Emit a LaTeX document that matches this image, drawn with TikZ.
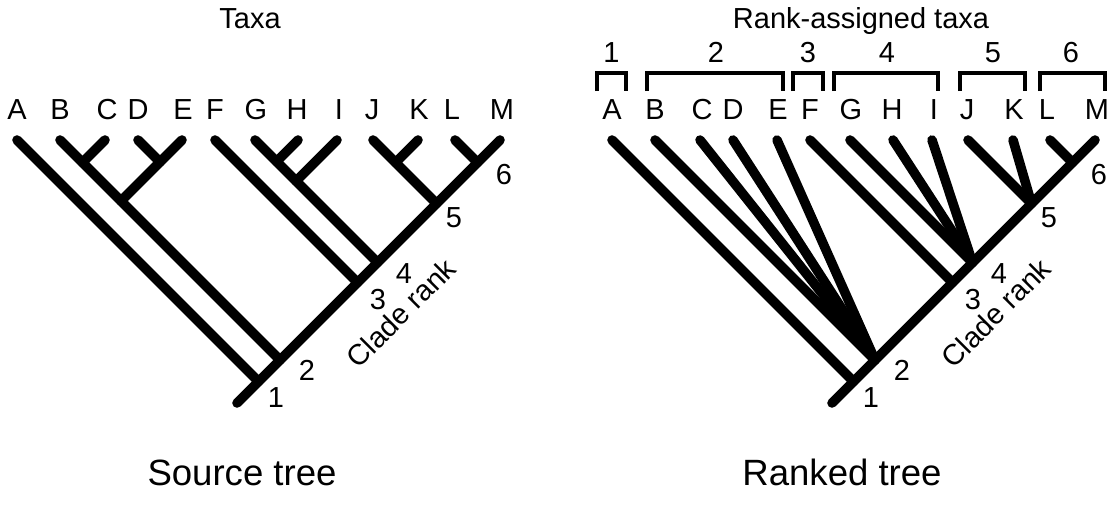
\documentclass[tikz,border=0pt]{standalone}
\usepackage{fontspec}
\setmainfont{Liberation Sans}
\usepackage{tikz}
\usetikzlibrary{positioning}

\tikzset{
  branch/.style={line width=6.8pt, line cap=round},
  bracket/.style={line width=3.2pt},
  taxon/.style={anchor=base, inner sep=0pt, font=\fontsize{20.6}{24}\selectfont},
  rank/.style={inner sep=0pt, font=\fontsize{20.6}{24}\selectfont},
  caption/.style={anchor=base, inner sep=0pt, font=\fontsize{26}{30}\selectfont}
}

\begin{document}
\begin{tikzpicture}[x=0.025cm, y=-0.025cm]
    \useasboundingbox (0,0) rectangle (1115,509);

    % source tree: leaves, rank nodes, inner joins
    \coordinate (lA) at (17,140);  \coordinate (lB) at (60,140);
    \coordinate (lC) at (105,140); \coordinate (lD) at (138,140);
    \coordinate (lE) at (182,140); \coordinate (lF) at (215,140);
    \coordinate (lG) at (255,140); \coordinate (lH) at (298,140);
    \coordinate (lI) at (337,140); \coordinate (lJ) at (373,140);
    \coordinate (lK) at (418,140); \coordinate (lL) at (455,140);
    \coordinate (lM) at (500,140);
    \coordinate (lroot) at (237,403);
    \coordinate (ln1) at (258.5,381.5); \coordinate (ln2) at (280,360);
    \coordinate (ln3) at (357.5,282.5); \coordinate (ln4) at (377.5,262.5);
    \coordinate (ln5) at (436.5,203.5); \coordinate (ln6) at (477.5,162.5);
    \coordinate (lBC) at (82.5,162.5);  \coordinate (lDE) at (160,162);
    \coordinate (lBE) at (121,201);     \coordinate (lGH) at (276.5,161.5);
    \coordinate (lGI) at (296,181);     \coordinate (lJK) at (395.5,162.5);

    \draw [branch] (lroot) -- (lM);
    \draw [branch] (lA) -- (ln1);
    \draw [branch] (lB) -- (ln2);
    \draw [branch] (lC) -- (lBC);
    \draw [branch] (lD) -- (lDE);
    \draw [branch] (lE) -- (lBE);
    \draw [branch] (lF) -- (ln3);
    \draw [branch] (lG) -- (ln4);
    \draw [branch] (lH) -- (lGH);
    \draw [branch] (lI) -- (lGI);
    \draw [branch] (lJ) -- (ln5);
    \draw [branch] (lK) -- (lJK);
    \draw [branch] (lL) -- (ln6);

    \node [taxon] (tlA) at (17,119) {A};  \node [taxon] (tlB) at (60,119) {B};
    \node [taxon] (tlC) at (107,119) {C}; \node [taxon] (tlD) at (138,119) {D};
    \node [taxon] (tlE) at (183,119) {E}; \node [taxon] (tlF) at (215,119) {F};
    \node [taxon] (tlG) at (256,119) {G}; \node [taxon] (tlH) at (297,119) {H};
    \node [taxon] (tlI) at (339,119) {I}; \node [taxon] (tlJ) at (372,119) {J};
    \node [taxon] (tlK) at (419,119) {K}; \node [taxon] (tlL) at (452,119) {L};
    \node [taxon] (tlM) at (502,119) {M};

    \node [rank] (rl1) at (276,398) {1};
    \node [rank] (rl2) at (307,370) {2};
    \node [rank] (rl3) at (378,300) {3};
    \node [rank] (rl4) at (404,274) {4};
    \node [rank] (rl5) at (454,218) {5};
    \node [rank] (rl6) at (504,175) {6};
    \node [rank, rotate=45] (lclade) at (401,313) {Clade rank};

    \node [taxon] (ltitle) at (250,28) {Taxa};
    \node [caption] (lcap) at (242,485) {Source tree};

    % ranked tree, same frame moved right
    \begin{scope}[shift={(595,0)}]
    \coordinate (rA) at (17,140);  \coordinate (rB) at (60,140);
    \coordinate (rC) at (105,140); \coordinate (rD) at (138,140);
    \coordinate (rE) at (182,140); \coordinate (rF) at (215,140);
    \coordinate (rG) at (255,140); \coordinate (rH) at (298,140);
    \coordinate (rI) at (337,140); \coordinate (rJ) at (373,140);
    \coordinate (rK) at (418,140); \coordinate (rL) at (455,140);
    \coordinate (rM) at (500,140);
    \coordinate (rroot) at (237,403);
    \coordinate (rn1) at (258.5,381.5); \coordinate (rn2) at (280,360);
    \coordinate (rn3) at (357.5,282.5); \coordinate (rn4) at (377.5,262.5);
    \coordinate (rn5) at (436.5,203.5); \coordinate (rn6) at (477.5,162.5);

    \draw [branch] (rroot) -- (rM);
    \draw [branch] (rA) -- (rn1);
    \draw [branch] (rB) -- (rn2);
    \draw [branch] (rC) -- (rn2);
    \draw [branch] (rD) -- (rn2);
    \draw [branch] (rE) -- (rn2);
    \draw [branch] (rF) -- (rn3);
    \draw [branch] (rG) -- (rn4);
    \draw [branch] (rH) -- (rn4);
    \draw [branch] (rI) -- (rn4);
    \draw [branch] (rJ) -- (rn5);
    \draw [branch] (rK) -- (rn5);
    \draw [branch] (rL) -- (rn6);

    \node [taxon] (trA) at (17,119) {A};  \node [taxon] (trB) at (60,119) {B};
    \node [taxon] (trC) at (107,119) {C}; \node [taxon] (trD) at (138,119) {D};
    \node [taxon] (trE) at (183,119) {E}; \node [taxon] (trF) at (215,119) {F};
    \node [taxon] (trG) at (256,119) {G}; \node [taxon] (trH) at (297,119) {H};
    \node [taxon] (trI) at (339,119) {I}; \node [taxon] (trJ) at (372,119) {J};
    \node [taxon] (trK) at (419,119) {K}; \node [taxon] (trL) at (452,119) {L};
    \node [taxon] (trM) at (502,119) {M};

    \node [rank] (rr1) at (276,398) {1};
    \node [rank] (rr2) at (307,370) {2};
    \node [rank] (rr3) at (378,300) {3};
    \node [rank] (rr4) at (404,274) {4};
    \node [rank] (rr5) at (454,218) {5};
    \node [rank] (rr6) at (504,175) {6};
    \node [rank, rotate=45] (rclade) at (401,313) {Clade rank};

    % rank groups
    \draw [bracket] (2,91) |- (31,73) -- (31,91);
    \draw [bracket] (52,91) |- (188,73) -- (188,91);
    \draw [bracket] (198,91) |- (228,73) -- (228,91);
    \draw [bracket] (239,91) |- (343,73) -- (343,91);
    \draw [bracket] (365,91) |- (430,73) -- (430,91);
    \draw [bracket] (445,91) |- (510,73) -- (510,91);

    \node [taxon] (g1) at (16.5,62) {1};
    \node [taxon] (g2) at (121,62) {2};
    \node [taxon] (g3) at (213,62) {3};
    \node [taxon] (g4) at (292,62) {4};
    \node [taxon] (g5) at (398,62) {5};
    \node [taxon] (g6) at (476,62) {6};

    \node [taxon] (rtitle) at (266,28) {Rank-assigned taxa};
    \node [caption] (rcap) at (247,485) {Ranked tree};
    \end{scope}

\end{tikzpicture}
\end{document}
